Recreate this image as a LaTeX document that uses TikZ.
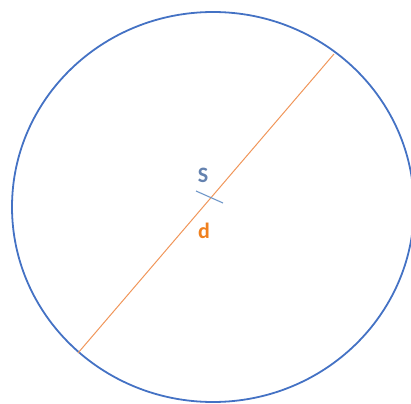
\documentclass[tikz,border=0pt]{standalone}
\usepackage{fontspec}
\setmainfont{Carlito}
\begin{document}
\begin{tikzpicture}[x=1pt,y=-1pt,
  rim/.style={draw={rgb,255:red,68;green,114;blue,196},line width=1.8pt},
  diam/.style={draw={rgb,255:red,240;green,150;blue,90},line width=1pt},
  tick/.style={draw={rgb,255:red,110;green,150;blue,200},line width=1.1pt},
  lbl/.style={font=\bfseries\fontsize{22}{26}\selectfont,inner sep=0pt}]
\useasboundingbox (0,0) rectangle (411,403);
\clip (0,0) rectangle (411,403);
\draw[rim] (213,207) ellipse [x radius=201, y radius=195];
\coordinate (p1) at (334,54);
\coordinate (p2) at (78,353);
\draw[diam] (p2) -- (p1);
\coordinate (t1) at (196,191);
\coordinate (t2) at (223,203);
\draw[tick] (t1) -- (t2);
\node[lbl,text={rgb,255:red,100;green,130;blue,175}] (s) at (203,175) {S};
\node[lbl,text={rgb,255:red,240;green,128;blue,30}] (d) at (204,231) {d};
\end{tikzpicture}
\end{document}
